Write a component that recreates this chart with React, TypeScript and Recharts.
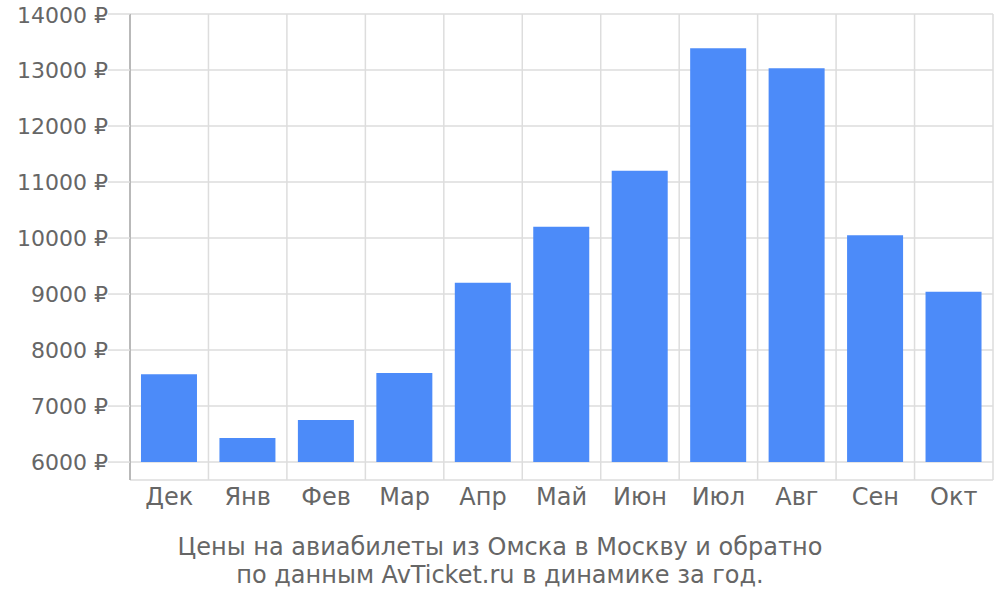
import { Bar, BarChart, CartesianGrid, XAxis, YAxis } from 'recharts';

const months = ['Дек', 'Янв', 'Фев', 'Мар', 'Апр', 'Май', 'Июн', 'Июл', 'Авг', 'Сен', 'Окт'];
const prices = [7570, 6430, 6750, 7590, 9200, 10200, 11200, 13390, 13030, 10050, 9040];
const priceTicks = [6000, 7000, 8000, 9000, 10000, 11000, 12000, 13000, 14000];
const base = 6000;
const titleLines = ['Цены на авиабилеты из Омска в Москву и обратно', 'по данным AvTicket.ru в динамике за год.'];

const data = months.map((month, i) => ({ month, idx: i + 0.5, range: [base, prices[i]] }));
const boundaryTicks = months.map((_, i) => i).concat(months.length);

const font = '"DejaVu Sans", sans-serif';

export default function App() {
  return (
    <div style={{ position: 'absolute', left: 0, top: 0, width: 1000, height: 600, background: '#fff', fontFamily: font }}>
      <BarChart
        width={1000}
        height={515}
        data={data}
        margin={{ top: 14, right: 7, bottom: 0, left: 0 }}
        barCategoryGap="14%"
      >
        <CartesianGrid xAxisId="grid" stroke="#dddddd" strokeWidth={1.5} />
        <XAxis
          dataKey="month"
          axisLine={false}
          tickLine={false}
          height={35}
          interval={0}
          tick={{ fill: '#666', fontSize: 24, fontFamily: font }}
        />
        <XAxis
          xAxisId="grid"
          dataKey="idx"
          type="number"
          domain={[0, months.length]}
          ticks={boundaryTicks}
          hide
        />
        <YAxis
          width={130}
          domain={[5680, 14000]}
          ticks={priceTicks}
          allowDataOverflow
          axisLine={{ stroke: '#aaaaaa', strokeWidth: 1.5 }}
          tickLine={{ stroke: '#dddddd', strokeWidth: 1.5 }}
          tickSize={22}
          tickMargin={0}
          tickFormatter={(v: number) => `${v} ₽`}
          tick={{ fill: '#666', fontSize: 22, fontFamily: font }}
        />
        <Bar dataKey="range" fill="#4c8bf9" isAnimationActive={false} />
      </BarChart>
      <div style={{ textAlign: 'center', color: '#666', fontSize: 24, lineHeight: '28px', marginTop: 18 }}>
        {titleLines.map((t) => (
          <div key={t}>{t}</div>
        ))}
      </div>
    </div>
  );
}
